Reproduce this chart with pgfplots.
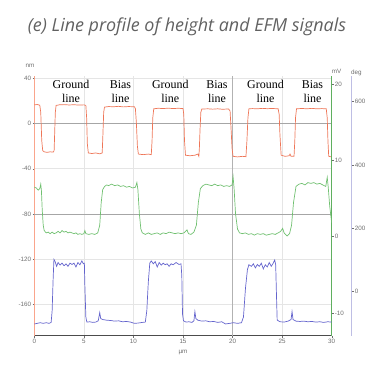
\documentclass[border=0pt]{standalone}
\usepackage{pgfplots}
\pgfplotsset{compat=1.18}
\usepackage{fontspec}
\setmainfont{Liberation Sans}
\newfontfamily\titlefont{Open Sans}
\newfontfamily\seriffont{Liberation Serif}
\definecolor{horange}{RGB}{238,118,88}
\definecolor{haxis}{RGB}{250,165,140}
\definecolor{hgreen}{RGB}{112,192,112}
\definecolor{hgaxis}{RGB}{95,175,95}
\definecolor{hblue}{RGB}{100,100,205}
\definecolor{hpaxis}{RGB}{190,190,228}
\definecolor{tickgray}{RGB}{110,110,110}
\newcommand{\tickfont}{\fontsize{6.3}{7}\selectfont}
\pgfplotsset{base/.style={scale only axis, width=297.4bp, height=259.7bp,
  at={(0bp,0bp)}, anchor=south west, xmin=0, xmax=30,
  /pgf/number format/assume math mode=true,
  tick label style={font=\tickfont, text=tickgray},
  tick align=outside, major tick length=1.8bp,
  every tick/.style={draw=tickgray, line width=0.4pt}}}
\begin{document}
\begin{tikzpicture}
\useasboundingbox (-34.3bp,-34.3bp) rectangle (343.7bp,335.7bp);
% height (nm)
\begin{axis}[base, ymin=-187.5, ymax=42,
  axis x line*=bottom, axis y line*=left,
  x axis line style={-, draw=black!70, line width=1pt},
  y axis line style={-, draw=haxis, line width=1pt},
  xtick={0,5,10,15,25,30}, extra x ticks={20},
  extra x tick style={grid style={black!30, line width=0.6pt}},
  ytick={40,-40,-120,-160}, extra y ticks={0,-80},
  extra y tick style={grid style={black!35, line width=0.6pt}},
  xmajorgrids, ymajorgrids, grid style={black!10, line width=0.6pt},
  xticklabel style={inner sep=1bp}, yticklabel style={inner sep=1.2bp},
  xlabel={µm}, xlabel style={font=\tickfont, text=tickgray, inner sep=0pt, yshift=-2bp}]
\addplot[horange, line width=0.7pt] coordinates {
(0,16.5)(0.3,16.8)(0.55,16.2)(0.65,10)(0.75,-15)(0.85,-24)(1.0,-25)(1.3,-25.5)(1.6,-25)(1.9,-25.3)
(2.0,-24)(2.05,-10)(2.12,10)(2.2,16)(2.5,16.5)(3.0,16.7)(3.5,16.4)(4.0,16.6)(4.5,16.3)(5.0,16.5)
(5.2,16)(5.28,5)(5.35,-18)(5.45,-26)(5.8,-26.5)(6.2,-26)(6.6,-26.8)(6.85,-26)(6.92,-10)(7.0,10)
(7.08,14.5)(7.5,15)(8.0,14.8)(8.5,15.2)(9.0,14.7)(9.5,15)(10.1,14.8)(10.2,13)(10.3,0)(10.4,-20)
(10.5,-27)(11.0,-27.5)(11.5,-27)(11.8,-27.5)(11.88,-15)(11.95,5)(12.05,13)(12.5,13.5)(13,13.2)(13.5,13.6)
(14,13.2)(14.5,13.5)(15.0,13.2)(15.08,8)(15.15,-15)(15.25,-28)(15.7,-28.5)(16.2,-28)(16.5,-27)(16.6,-29)
(16.65,-22)(16.72,-5)(16.8,10)(16.9,12.8)(17.5,13)(18,12.7)(18.5,13)(19,12.6)(19.6,12.9)(19.75,11)
(19.85,-5)(19.95,-22)(20.05,-29)(20.5,-29.5)(21,-29)(21.35,-29.3)(21.45,-15)(21.55,5)(21.65,13)(22,13.2)
(22.5,13)(23,13.4)(23.5,13.1)(24,13.3)(24.6,13)(24.7,8)(24.78,-10)(24.9,-28)(25.3,-29)(25.7,-28.5)
(25.8,-27)(25.9,-29)(26.2,-29)(26.28,-15)(26.35,5)(26.45,13)(27,13.3)(27.5,13)(28,13.4)(28.5,13)
(29,13.2)(29.45,13)(29.55,5)(29.62,-15)(29.7,-29)(30,-29.5)};
\end{axis}
% EFM amplitude (mV)
\begin{axis}[base, ymin=-13.0, ymax=21.1,
  axis x line=none, axis y line*=right, xtick=\empty,
  y axis line style={-, draw=hgaxis, line width=1pt},
  ytick={-10,0,10,20}, yticklabel style={inner sep=1.2bp}]
\addplot[hgreen, line width=0.7pt] coordinates {
(0,6.5)(0.2,6.4)(0.4,6.1)(0.55,6.3)(0.65,6.9)(0.72,6.0)(0.8,3.5)(0.9,1.5)(1.0,0.8)(1.2,0.5)
(1.4,0.6)(1.6,0.4)(1.8,0.6)(2.0,0.4)(2.2,0.5)(2.4,0.7)(2.6,0.5)(2.8,0.8)(3.0,0.6)(3.2,0.7)
(3.4,0.5)(3.6,0.6)(3.8,0.5)(4.0,0.4)(4.2,0.5)(4.4,0.3)(4.6,0.4)(4.8,0.3)(5.0,0.4)(5.1,0.8)
(5.2,0.4)(5.5,0.3)(5.8,0.4)(6.1,0.3)(6.4,0.5)(6.6,1.5)(6.75,4.5)(6.9,6.2)(7.1,6.6)(7.3,6.8)
(7.5,6.7)(7.8,6.9)(8.1,6.7)(8.4,6.8)(8.7,6.6)(9.0,6.7)(9.3,6.5)(9.6,6.6)(9.9,6.4)(10.2,6.5)
(10.35,7.1)(10.45,6.2)(10.6,3)(10.75,1)(10.9,0.5)(11.2,0.3)(11.5,0.5)(11.8,0.3)(12.1,0.4)(12.4,0.5)
(12.7,0.3)(13.0,0.5)(13.3,0.4)(13.6,0.6)(13.9,0.5)(14.2,0.4)(14.5,0.5)(14.8,0.4)(15.1,0.5)(15.4,0.9)
(15.55,0.4)(15.8,0.3)(16.1,0.6)(16.35,1.5)(16.55,4.5)(16.75,6.3)(17.0,6.7)(17.3,6.9)(17.6,6.8)(17.9,6.7)
(18.2,6.9)(18.5,6.7)(18.8,6.8)(19.1,6.6)(19.4,6.7)(19.7,6.6)(19.95,6.8)(20.05,7.9)(20.15,6.4)(20.3,3)
(20.5,1)(20.7,0.5)(21.0,0.4)(21.3,0.5)(21.6,0.3)(21.9,0.4)(22.2,0.2)(22.5,0.4)(22.8,0.3)(23.1,0.4)
(23.4,0.2)(23.7,0.3)(24.0,0.4)(24.3,0.3)(24.6,0.5)(24.85,0.7)(25.05,1.1)(25.2,0.5)(25.5,0.1)(25.75,0.4)
(25.95,1.5)(26.15,4.5)(26.4,6.6)(26.7,6.9)(27.0,7.0)(27.3,6.8)(27.6,7.1)(27.9,7.0)(28.2,7.1)(28.5,6.9)
(28.8,7.0)(29.1,6.8)(29.4,6.6)(29.55,7.8)(29.65,6.5)(29.8,4)(30,1.8)};
\end{axis}
% EFM phase (deg)
\begin{axis}[base, ymin=-139, ymax=681,
  axis x line=none, axis y line*=right, xtick=\empty,
  y axis line style={-, draw=hpaxis, line width=1pt, xshift=20bp},
  ytick={0,200,400,600}, ytick style={xshift=20bp},
  yticklabel style={inner sep=1.2bp, xshift=20bp}]
\addplot[hblue, line width=0.7pt] coordinates {
(0,-102)(0.3,-100)(0.6,-98)(0.9,-100)(1.2,-98)(1.5,-100)(1.7,-97)(1.8,-60)(1.9,40)(1.98,102)
(2.1,95)(2.25,80)(2.4,92)(2.6,84)(2.8,90)(3.0,82)(3.2,88)(3.4,80)(3.6,90)(3.8,86)
(4.0,90)(4.2,78)(4.4,92)(4.6,85)(4.8,97)(4.95,88)(5.05,90)(5.1,20)(5.2,-80)(5.3,-96)
(5.6,-95)(5.9,-97)(6.2,-96)(6.45,-92)(6.6,-66)(6.7,-85)(6.9,-88)(7.3,-90)(7.7,-91)(8.1,-93)
(8.5,-92)(8.9,-95)(9.3,-94)(9.7,-96)(10.1,-100)(10.5,-99)(10.9,-97)(11.2,-96)(11.35,-60)(11.5,30)
(11.65,90)(11.8,97)(12.0,88)(12.2,95)(12.4,78)(12.6,92)(12.8,84)(13.0,90)(13.2,85)(13.4,88)
(13.6,80)(13.8,88)(14.0,85)(14.3,92)(14.6,86)(14.8,88)(14.88,50)(14.95,-70)(15.05,-92)(15.3,-96)
(15.6,-95)(15.9,-97)(16.1,-92)(16.2,-63)(16.3,-85)(16.5,-90)(16.9,-93)(17.3,-92)(17.7,-95)(18.1,-94)
(18.5,-97)(18.9,-95)(19.3,-102)(19.7,-100)(20.1,-98)(20.5,-100)(20.9,-98)(21.1,-80)(21.3,10)(21.5,70)
(21.65,85)(21.9,80)(22.1,88)(22.3,75)(22.5,86)(22.7,80)(22.9,90)(23.1,72)(23.3,85)(23.5,78)
(23.7,92)(23.9,80)(24.1,90)(24.25,100)(24.35,85)(24.42,0)(24.5,-90)(24.8,-95)(25.2,-96)(25.6,-93)
(25.9,-88)(26.0,-63)(26.1,-88)(26.4,-93)(26.8,-94)(27.2,-93)(27.6,-95)(28.0,-94)(28.4,-96)(28.8,-95)
(29.2,-97)(29.6,-95)(30,-96)};
\end{axis}
% unit labels
\node[font=\tickfont, text=tickgray] at (-4.3bp,269.7bp) {nm};
\node[font=\tickfont, text=tickgray] at (302.4bp,264bp) {mV};
\node[font=\tickfont, text=tickgray] at (322bp,262.7bp) {deg};
% title
\node[anchor=base, font=\titlefont\itshape\fontsize{18}{20}\selectfont, text=black!62] at (152.7bp,304bp) {(e) Line profile of height and EFM signals};
% annotations
\foreach \cx/\w in {36.7/Ground, 86.2/Bias, 136/Ground, 182.7/Bias, 231.2/Ground, 278.2/Bias}{
  \node[anchor=base, inner sep=0pt, font=\seriffont\fontsize{12}{14}\selectfont] at (\cx bp,247.4bp) {\w};
  \node[anchor=base, inner sep=0pt, font=\seriffont\fontsize{12}{14}\selectfont] at (\cx bp,233bp) {line};
}
\end{tikzpicture}
\end{document}
